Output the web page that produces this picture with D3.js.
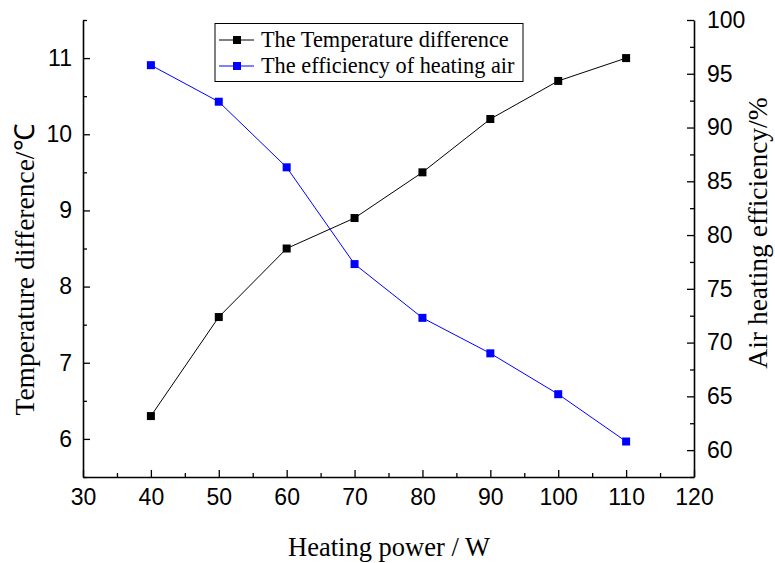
<!DOCTYPE html>
<html><head><meta charset="utf-8">
<script src="https://cdn.jsdelivr.net/npm/d3@7"></script>
<style>body{margin:0;background:#fff}</style>
</head><body>
<svg id="c" width="775" height="563"></svg>
<script>
const power = [40, 50, 60, 70, 80, 90, 100, 110];
const tempDiff = [6.3, 7.6, 8.5, 8.9, 9.5, 10.2, 10.7, 11.0];
const efficiency = [95.8, 92.4, 86.3, 77.3, 72.3, 69.0, 65.2, 60.8];
const xTicks = [30, 40, 50, 60, 70, 80, 90, 100, 110, 120];
const yLeftTicks = [6, 7, 8, 9, 10, 11];
const yRightTicks = [60, 65, 70, 75, 80, 85, 90, 95, 100];
const seriesNames = ["The Temperature difference", "The efficiency of heating air"];

const svg = d3.select("#c");
const L = 83, R = 694, T = 20, B = 477;
const x = d3.scaleLinear().domain([30, 120]).range([L, R]);
const yL = d3.scaleLinear().domain([5.5, 11.5]).range([B, T]);
const yR = d3.scaleLinear().domain([57.5, 100]).range([B, T]);
const tickFont = "Liberation Sans, Arial, sans-serif";
const serif = "Liberation Serif, Times New Roman, serif";

function styleAxis(g){
  g.select(".domain").attr("stroke","#000").attr("stroke-width",1.6);
  g.selectAll(".tick line").attr("stroke","#000").attr("stroke-width",1.3);
  g.selectAll("text").attr("font-family",tickFont).attr("font-size",23).attr("fill","#000");
}
// minor ticks
const xMinor = d3.range(35, 120, 10);
const gxm = svg.append("g").attr("transform",`translate(0,${B})`)
  .call(d3.axisBottom(x).tickValues(xMinor).tickSize(-4).tickFormat(""));
gxm.select(".domain").remove(); gxm.selectAll("line").attr("stroke","#000").attr("stroke-width",1.3);
const gx = svg.append("g").attr("transform",`translate(0,${B})`)
  .call(d3.axisBottom(x).tickValues(xTicks).tickSizeInner(-7).tickSizeOuter(0).tickPadding(11));
styleAxis(gx);
gx.selectAll("text").attr("dy","0.75em");

const yLMinor = d3.range(5.5, 11.6, 1);
const glm = svg.append("g").attr("transform",`translate(${L},0)`)
  .call(d3.axisLeft(yL).tickValues(yLMinor).tickSize(-4).tickFormat(""));
glm.select(".domain").remove(); glm.selectAll("line").attr("stroke","#000").attr("stroke-width",1.3);
const gl = svg.append("g").attr("transform",`translate(${L},0)`)
  .call(d3.axisLeft(yL).tickValues(yLeftTicks).tickSizeInner(-7).tickSizeOuter(0).tickPadding(11).tickFormat(d3.format("d")));
styleAxis(gl);

const yRMinor = d3.range(57.5, 100, 5);
const grm = svg.append("g").attr("transform",`translate(${R},0)`)
  .call(d3.axisRight(yR).tickValues(yRMinor).tickSize(-4).tickFormat(""));
grm.select(".domain").remove(); grm.selectAll("line").attr("stroke","#000").attr("stroke-width",1.3);
const gr = svg.append("g").attr("transform",`translate(${R},0)`)
  .call(d3.axisRight(yR).tickValues(yRightTicks).tickSizeInner(-7).tickSizeOuter(0).tickPadding(13));
styleAxis(gr);

// lines
const lineL = d3.line().x((d,i)=>x(power[i])).y(d=>yL(d));
const lineR = d3.line().x((d,i)=>x(power[i])).y(d=>yR(d));
svg.append("path").datum(tempDiff).attr("d",lineL).attr("fill","none").attr("stroke","#000").attr("stroke-width",1);
svg.append("path").datum(efficiency).attr("d",lineR).attr("fill","none").attr("stroke","#0000ff").attr("stroke-width",1);
const s = 8;
svg.selectAll(".mL").data(tempDiff).join("rect")
  .attr("x",(d,i)=>x(power[i])-s/2).attr("y",d=>yL(d)-s/2).attr("width",s).attr("height",s).attr("fill","#000");
svg.selectAll(".mR").data(efficiency).join("rect")
  .attr("x",(d,i)=>x(power[i])-s/2).attr("y",d=>yR(d)-s/2).attr("width",s).attr("height",s).attr("fill","#0000ff");

// legend
const lg = svg.append("g");
lg.append("rect").attr("x",215).attr("y",23.5).attr("width",308).attr("height",58).attr("fill","#fff").attr("stroke","#000").attr("stroke-width",1);
const cols = ["#000","#0000ff"];
seriesNames.forEach((n,i)=>{
  const cy = 40 + i*26;
  lg.append("line").attr("x1",219).attr("x2",254).attr("y1",cy).attr("y2",cy).attr("stroke",cols[i]).attr("stroke-width",1);
  lg.append("rect").attr("x",237-s/2).attr("y",cy-s/2).attr("width",s).attr("height",s).attr("fill",cols[i]);
  lg.append("text").attr("x",261).attr("y",cy+7).text(n).attr("font-family",serif).attr("font-size",22.3).attr("fill","#000");
});

// titles
svg.append("text").attr("x",389).attr("y",556).attr("text-anchor","middle")
  .attr("font-family",serif).attr("font-size",26.5).text("Heating power / W");
svg.append("text").attr("transform","translate(34,270) rotate(-90)").attr("text-anchor","middle")
  .attr("font-family",serif).attr("font-size",27.5).text("Temperature difference/℃");
svg.append("text").attr("transform","translate(767,233) rotate(-90)").attr("text-anchor","middle")
  .attr("font-family",serif).attr("font-size",27.5).text("Air heating efficiency/%");
</script>
</body></html>
